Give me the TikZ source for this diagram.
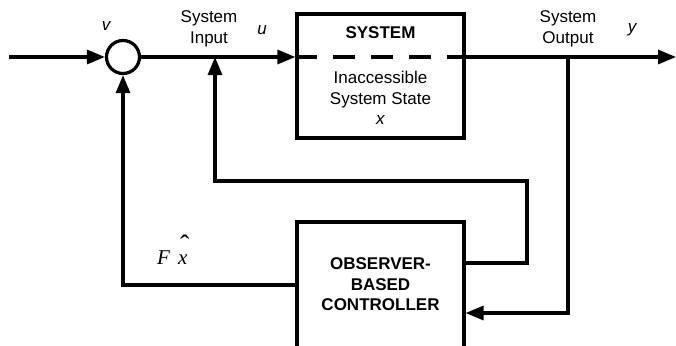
\documentclass[tikz,border=0pt]{standalone}
\usepackage{fontspec}
\setmainfont{Liberation Sans}
\newfontfamily\timesfont{Liberation Serif}
\usetikzlibrary{arrows.meta}
\begin{document}
\begin{tikzpicture}[x=1pt,y=-1pt,
  wire/.style={line width=3.2pt},
  sig/.style={wire,-{Triangle[length=18pt,width=14pt]}},
  block/.style={draw,line width=3.2pt,minimum width=167pt,inner sep=0pt},
  lbl/.style={font=\fontsize{17}{20.5}\selectfont,align=center,inner sep=0pt},
  var/.style={font=\fontsize{17}{20.5}\selectfont\itshape,inner sep=0pt},
  boldlbl/.style={font=\fontsize{17}{20.5}\selectfont\bfseries,align=center,inner sep=0pt}]
\useasboundingbox (0,0) rectangle (676,345);
\clip (0,0) rectangle (676,345);

% blocks
\node[block,minimum height=124pt] (sys) at (380.5,76) {};
\node[boldlbl] (systitle) at (380.5,33) {SYSTEM};
\node[lbl] (state) at (380.5,98) {Inaccessible\\System State\\\textit{x}};
\node[block,minimum height=127pt] (ctrl) at (380.5,285.5) {};
\node[boldlbl] (ctrltext) at (380.5,284.5) {OBSERVER-\\BASED\\CONTROLLER};

% summing junction
\node[draw,circle,line width=3.2pt,minimum size=33pt,inner sep=0pt] (sum) at (123,57) {};

% junctions and corners
\coordinate (in) at (9,57);
\coordinate (out) at (676,57);
\coordinate (ubr) at (215,57);
\coordinate (ybr) at (568,57);
\coordinate (c1) at (527,263);
\coordinate (c2) at (527,181);
\coordinate (c3) at (215,181);
\coordinate (c4) at (123,285);
\coordinate (c5) at (568,313);

% forward path
\draw[sig] (in) -- (sum.west);
\draw[sig] (sum.east) -- (sys.west |- ubr);
\draw[line width=4.5pt,dash pattern=on 22pt off 16pt] (sys.west |- ubr) -- (sys.east |- ubr);
\draw[sig] (sys.east |- ybr) -- (out);

% feedback paths
\draw[sig] (ybr) -- (c5) -- (ctrl.east |- c5);
\draw[sig] (ctrl.east |- c1) -- (c1) -- (c2) -- (c3) -- (ubr);
\draw[sig] (ctrl.west |- c4) -- (c4) -- (sum.south);

% signal labels
\node[var] (vlab) at (106,26) {v};
\node[lbl] (inlab) at (209,29) {System\\Input};
\node[var] (ulab) at (262,30) {u};
\node[lbl] (outlab) at (568,29) {System\\Output};
\node[var] (ylab) at (632,30) {y};
% control signal F x-hat, with the hat set high above the x
\node[anchor=base west,inner sep=0pt,font=\timesfont\itshape\fontsize{21}{21}\selectfont] (fx) at (157,264)
  {F\hspace{8pt}\makebox[0pt][l]{\hspace{2pt}\raisebox{10pt}{\upshape\fontsize{28}{28}\selectfont ˆ}}x};
\end{tikzpicture}
\end{document}
